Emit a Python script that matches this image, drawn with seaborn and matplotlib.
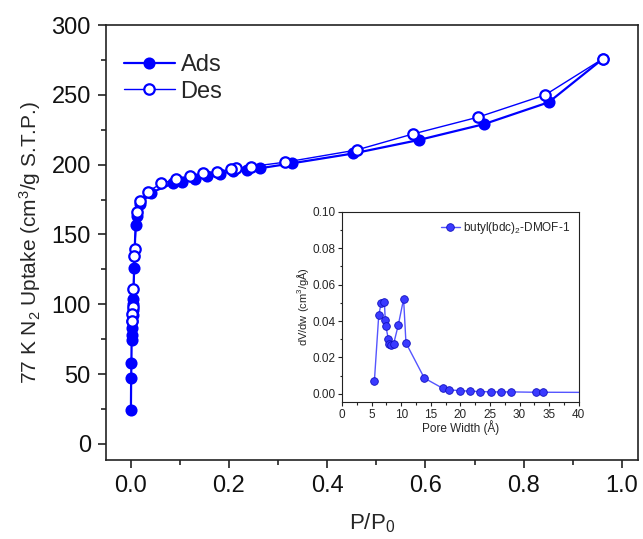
import numpy as np
import pandas as pd
import matplotlib
matplotlib.use("Agg")
import matplotlib.pyplot as plt
import seaborn as sns
from matplotlib.ticker import MultipleLocator

# ---- data ----
ads_p = [0.0005, 0.001, 0.0015, 0.002, 0.0025, 0.003, 0.0035, 0.004, 0.0045, 0.005, 0.0055,
         0.007, 0.010, 0.012, 0.020, 0.042, 0.086, 0.105, 0.130, 0.155, 0.181, 0.208,
         0.237, 0.263, 0.329, 0.453, 0.587, 0.719, 0.851, 0.962]
ads_v = [24, 47, 58, 74.5, 78, 83, 88, 92, 96, 100, 104,
         126, 157, 163, 172, 180, 186.6, 187.6, 189.5, 191.9, 193.3, 195.7,
         196.2, 197.4, 201, 208, 217.7, 229, 244.7, 276]
des_p = [0.962, 0.844, 0.707, 0.575, 0.460, 0.315, 0.244, 0.215, 0.205, 0.176, 0.147,
         0.120, 0.092, 0.0625, 0.035, 0.020, 0.013, 0.008, 0.0075, 0.0055, 0.004, 0.0035, 0.003]
des_v = [276, 250, 234, 222, 210.5, 201.8, 198.6, 197.4, 196.7, 195, 193.8,
         191.9, 189.5, 186.6, 180.6, 174, 166, 139.4, 134.6, 110.7, 98, 93, 88]

pore_w = [5.46, 6.2, 6.6, 7.15, 7.3, 7.4, 7.8, 8.0, 8.3, 8.7, 9.5, 10.4, 10.8, 13.9,
          17.0, 18.1, 19.9, 21.6, 23.3, 25.1, 26.8, 28.6, 32.7, 34.0, 45.0]
dvdw = [0.0070, 0.0433, 0.0497, 0.0506, 0.0405, 0.0372, 0.0304, 0.0276, 0.0267, 0.0273,
        0.0378, 0.0521, 0.0280, 0.0087, 0.0031, 0.0022, 0.0018, 0.0015, 0.0013, 0.0011,
        0.0011, 0.0011, 0.0009, 0.0009, 0.0008]

sns.set_theme(style="ticks")
plt.rcParams['font.family'] = ['Liberation Sans', 'DejaVu Sans']
plt.rcParams['mathtext.default'] = 'regular'

fig = plt.figure(figsize=(6.43, 5.39), dpi=100)
ax = fig.add_axes([0.165, 0.1466, 0.8275, 0.807])

blue = '#0000ff'
ads_df = pd.DataFrame({'p': ads_p, 'v': ads_v})
des_df = pd.DataFrame({'p': des_p, 'v': des_v})
sns.lineplot(data=ads_df, x='p', y='v', ax=ax, sort=False, estimator=None,
             color=blue, lw=1.6, marker='o', ms=7.5, mec=blue, mew=1.2,
             label='Ads', zorder=3)
sns.lineplot(data=des_df, x='p', y='v', ax=ax, sort=False, estimator=None,
             color=blue, lw=1.0, marker='o', ms=7.5, mec=blue, mew=1.6,
             markerfacecolor='white', label='Des', zorder=4)

ax.set_xlim(-0.05, 1.033)
ax.set_ylim(-11.5, 300)
ax.xaxis.set_major_locator(MultipleLocator(0.2))
ax.xaxis.set_minor_locator(MultipleLocator(0.1))
ax.yaxis.set_major_locator(MultipleLocator(50))
ax.yaxis.set_minor_locator(MultipleLocator(25))
ax.tick_params(which='both', direction='out', top=False, right=False, labelsize=17,
               color='#222222', width=1.2, labelcolor='#111111')
ax.tick_params(which='major', length=6, pad=5)
ax.tick_params(which='minor', length=3.5)
for s in ax.spines.values():
    s.set_linewidth(1.2)
    s.set_color('#222222')
ax.set_xlabel('P/P$_0$', fontsize=16, labelpad=10)
ax.set_ylabel('77 K N$_2$ Uptake (cm$^3$/g S.T.P.)', fontsize=15, labelpad=6)
ax.legend(loc='upper left', frameon=False, fontsize=17, handlelength=2.15,
          borderaxespad=0.35, labelspacing=0.2, handletextpad=0.25,
          bbox_to_anchor=(0.0, 0.974))

# ---- inset ----
ins = fig.add_axes([0.532, 0.254, 0.368, 0.353])
pdf = pd.DataFrame({'w': pore_w, 'd': dvdw})
sns.lineplot(data=pdf, x='w', y='d', ax=ins, sort=False, estimator=None,
             color='#5555ff', lw=1.0, marker='o', ms=5.5, mec='#1010c0', mew=0.6,
             markerfacecolor='#3a3aff', label='butyl(bdc)$_2$-DMOF-1')
ins.set_xlim(0, 40)
ins.set_ylim(-0.0045, 0.10)
ins.xaxis.set_major_locator(MultipleLocator(5))
ins.xaxis.set_minor_locator(MultipleLocator(2.5))
ins.yaxis.set_major_locator(MultipleLocator(0.02))
ins.yaxis.set_minor_locator(MultipleLocator(0.01))
ins.tick_params(which='both', direction='out', top=False, right=False, labelsize=8.5,
                color='#222222', width=0.8, pad=2)
ins.tick_params(which='major', length=3)
ins.tick_params(which='minor', length=1.8)
for s in ins.spines.values():
    s.set_linewidth(0.8)
    s.set_color('#222222')
ins.set_yticks([0.0, 0.02, 0.04, 0.06, 0.08, 0.10])
ins.set_yticklabels(['0.00', '0.02', '0.04', '0.06', '0.08', '0.10'])
ins.set_xlabel('Pore Width (Å)', fontsize=8.5, labelpad=-1)
ins.set_ylabel('dV/dw (cm$^3$/gÅ)', fontsize=8, labelpad=1)
ins.legend(loc='upper right', frameon=False, fontsize=8.5, handlelength=1.6,
           borderaxespad=0.3, handletextpad=0.3)

fig.savefig('out.png', dpi=100)
